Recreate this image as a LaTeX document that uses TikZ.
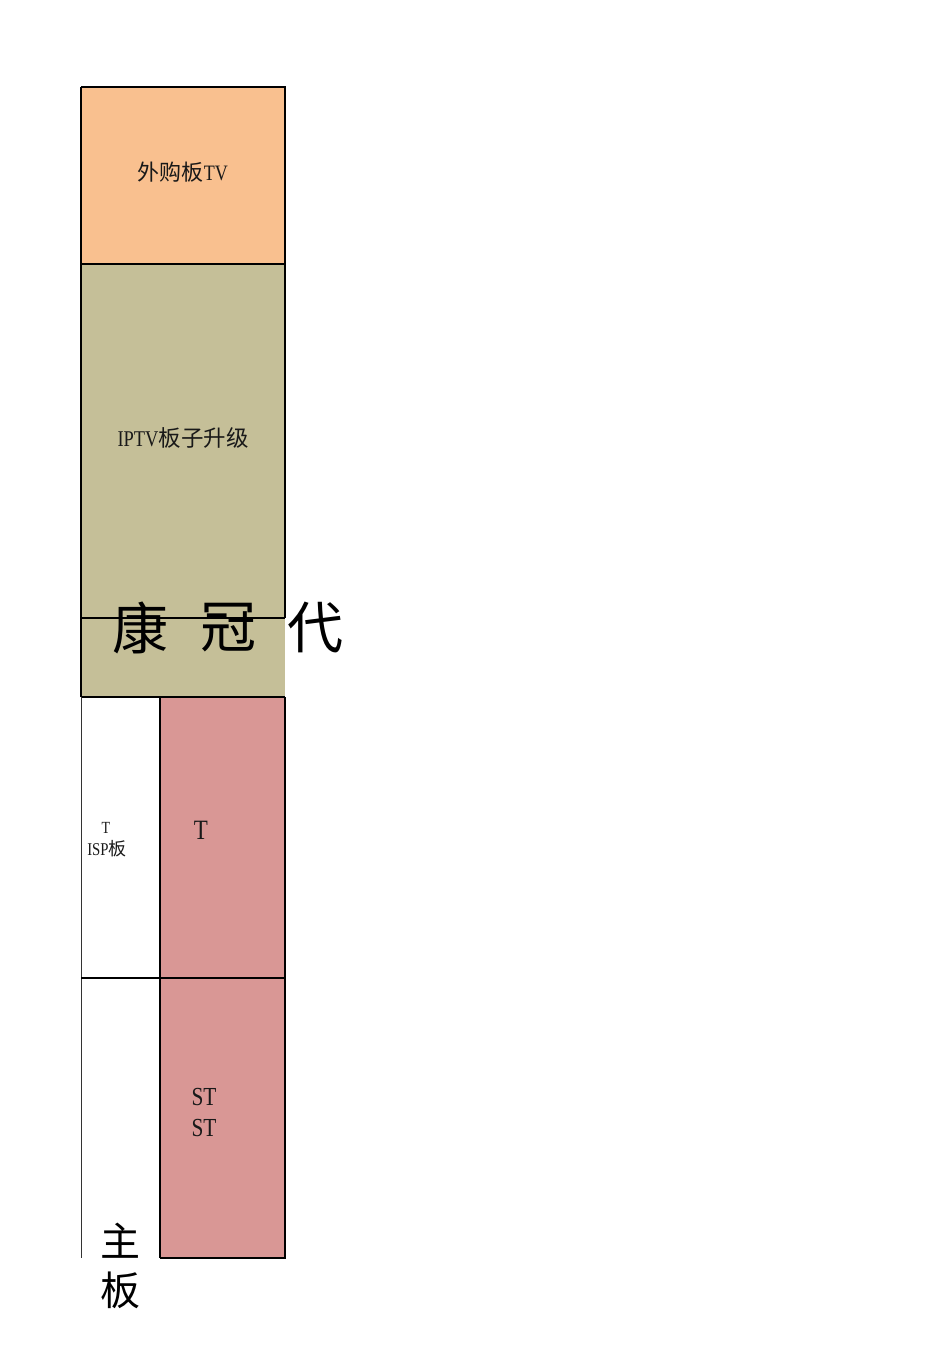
\documentclass[tikz,border=0pt]{standalone}
\usepackage{fontspec}
\setmainfont{Liberation Serif}[FakeStretch=0.82]
\newfontfamily\cjk{Noto Sans CJK SC}
\definecolor{peach}{HTML}{F9C08F}
\definecolor{khaki}{HTML}{C5BF98}
\definecolor{rose}{HTML}{D99795}
\begin{document}
\begin{tikzpicture}[x=1pt,y=-1pt,
  thin line/.style={line width=1.1pt,black},
  thick line/.style={line width=2.4pt,black},
  lbl/.style={inner sep=0pt,text=black!90},
  big/.style={inner sep=0pt,font=\cjk\fontsize{56}{60}\selectfont},
  mid/.style={inner sep=0pt,font=\cjk\fontsize{40}{44}\selectfont}]
\useasboundingbox (0,0) rectangle (950,1345);
% fills
\fill[peach] (81,87) rectangle (285,264);
\fill[khaki] (81,264) rectangle (285,697);
\fill[rose] (160,697) rectangle (285,1258);
% lines
\draw[thin line] (81,87) -- (285,87);
\draw[thin line] (81,87) -- (81,697);
\draw[thin line] (81,264) -- (285,264);
\draw[thick line] (285,86) -- (285,618);
\draw[thin line] (81,618) -- (285,618);
\draw[thick line] (81,697) -- (285,697);
\draw[line width=0.9pt,black!80] (81,697) -- (81,1258);
\draw[thin line] (160,697) -- (160,1258);
\draw[thin line] (81,978) -- (285,978);
\draw[thick line] (285,697) -- (285,1259);
\draw[thin line] (160,1258) -- (286,1258);
% texts
\node[lbl,font=\fontsize{22}{24}\selectfont] (tv) at (183,172) {{\cjk 外购板}TV};
\node[lbl,font=\fontsize{22.5}{24}\selectfont] (iptv) at (183,438) {IPTV{\cjk 板子升级}};
\node[big] (k1) at (140,628) {康};
\node[big] (k2) at (228,628) {冠};
\node[big] (k3) at (315,628) {代};
\node[lbl,font=\fontsize{17}{18}\selectfont] (t1) at (106,828) {T};
\node[lbl,font=\fontsize{18}{20}\selectfont] (isp) at (107,849) {ISP{\cjk 板}};
\node[lbl,font=\fontsize{28}{30}\selectfont] (t2) at (201,830) {T};
\node[lbl,font=\fontsize{26}{28}\selectfont] (st1) at (204,1097) {ST};
\node[lbl,font=\fontsize{26}{28}\selectfont] (st2) at (204,1128) {ST};
\node[mid] (z1) at (120,1241) {主};
\node[mid] (z2) at (120,1290) {板};
\end{tikzpicture}
\end{document}
